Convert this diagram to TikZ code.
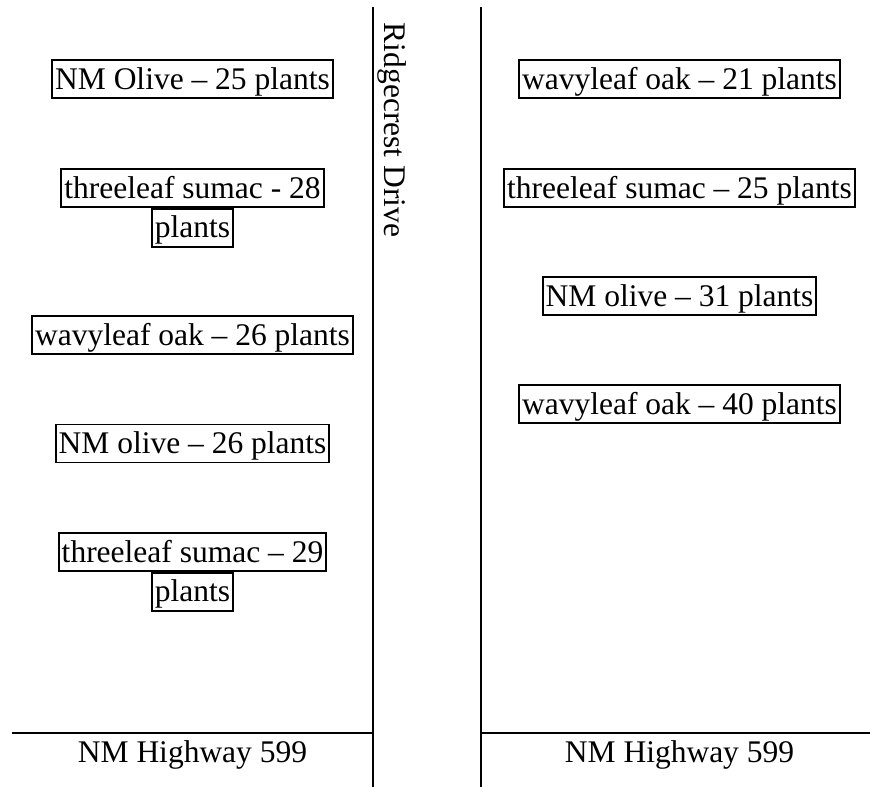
\documentclass[tikz,border=0pt]{standalone}
\usepackage{fontspec}
\setmainfont{Liberation Serif}
\usetikzlibrary{positioning}

\tikzset{
  road/.style={line width=2pt},
  plantbox/.style={draw,line width=1.8pt,inner xsep=3pt,inner ysep=1pt,
    text height=28pt,text depth=8pt},
  roadname/.style={anchor=base}
}

\begin{document}
\begin{tikzpicture}[x=1pt,y=-1pt,font=\fontsize{31.5}{36}\selectfont]
    \def\leftcol{192.5}
    \def\rightcol{679.5}
    \useasboundingbox (0,0) rectangle (870,787);

    % roads
    \draw[road] (373,7) -- (373,787);
    \draw[road] (481,7) -- (481,787);
    \draw[road] (12,733) -- (373,733);
    \draw[road] (481,733) -- (870,733);
    \node[roadname,rotate=-90] (ridgecrest) at (384,130) {Ridgecrest Drive};
    \node[roadname] (highwayW) at (\leftcol,762.7) {NM Highway 599};
    \node[roadname] (highwayE) at (\rightcol,762.7) {NM Highway 599};

    % west side plantings
    \node[plantbox] (oliveW1) at (\leftcol,79) {NM Olive – 25 plants};
    \node[plantbox] (sumacW1) at (\leftcol,188) {threeleaf sumac - 28};
    \node[plantbox,below=0pt of sumacW1] (sumacW1b) {plants};
    \node[plantbox] (oakW1) at (\leftcol,335) {wavyleaf oak – 26 plants};
    \node[plantbox] (oliveW2) at (\leftcol,443.5) {NM olive – 26 plants};
    \node[plantbox] (sumacW2) at (\leftcol,552) {threeleaf sumac – 29};
    \node[plantbox,below=0pt of sumacW2] (sumacW2b) {plants};

    % east side plantings
    \node[plantbox] (oakE1) at (\rightcol,79) {wavyleaf oak – 21 plants};
    \node[plantbox] (sumacE1) at (\rightcol,188) {threeleaf sumac – 25 plants};
    \node[plantbox] (oliveE1) at (\rightcol,296) {NM olive – 31 plants};
    \node[plantbox] (oakE2) at (\rightcol,404) {wavyleaf oak – 40 plants};
\end{tikzpicture}
\end{document}
